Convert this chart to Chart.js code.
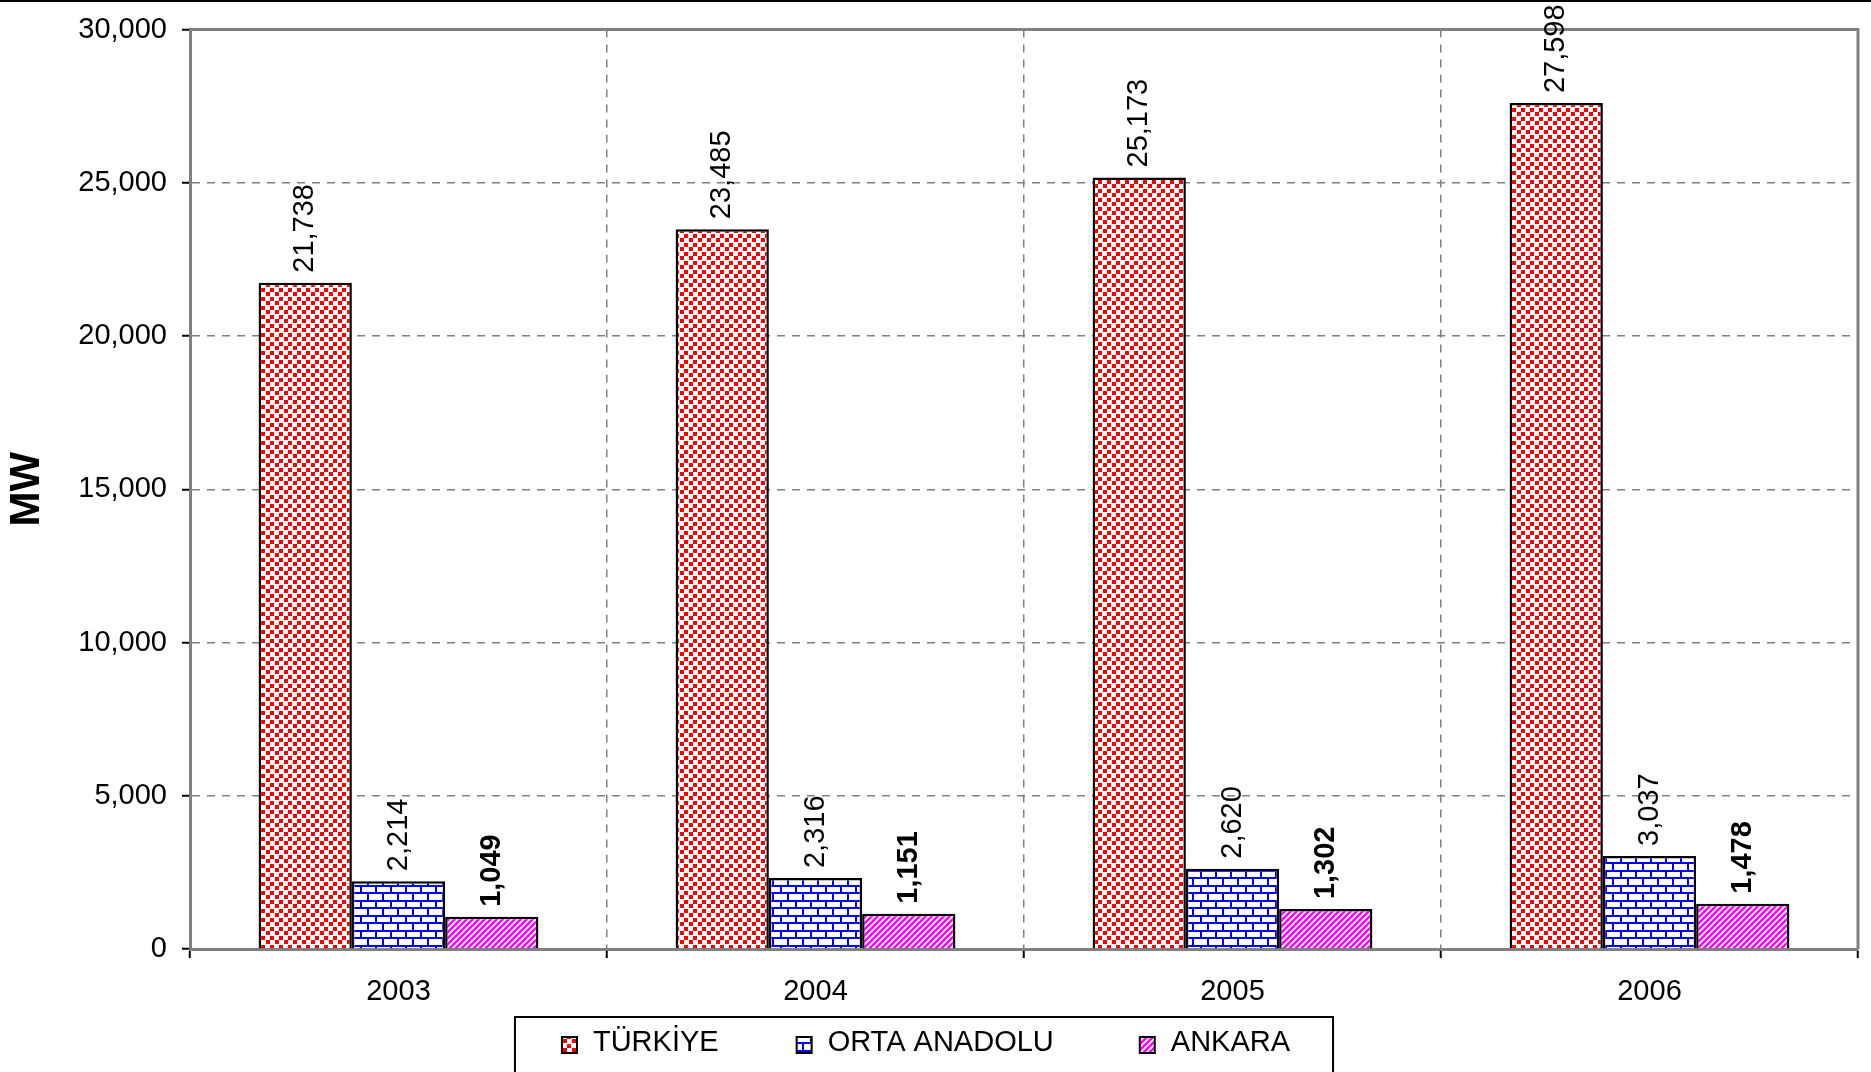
<!DOCTYPE html>
<html>
<head>
<meta charset="utf-8">
<script src="https://cdn.jsdelivr.net/npm/chart.js@4.4.0/dist/chart.umd.min.js"></script>
<style>
  body { margin: 0; background: #fff; }
  canvas { display: block; }
</style>
</head>
<body>
<canvas id="chart" width="1871" height="1072"></canvas>
<script>
const years = ["2003", "2004", "2005", "2006"];
const turkiye = [21738, 23485, 25173, 27598];
const ortaAnadolu = [2214, 2316, 2620, 3037];
const ankara = [1049, 1151, 1302, 1478];
const seriesNames = ["TÜRKİYE", "ORTA ANADOLU", "ANKARA"];
const yTicks = [0, 5000, 10000, 15000, 20000, 25000, 30000];

const FONT = "'Liberation Sans', Arial, sans-serif";
const ctx = document.getElementById("chart").getContext("2d");

function makePattern(size, draw) {
  const c = document.createElement("canvas");
  c.width = size;
  c.height = size;
  const g = c.getContext("2d");
  g.fillStyle = "#fff";
  g.fillRect(0, 0, size, size);
  draw(g, size);
  return ctx.createPattern(c, "repeat");
}

// kırmızı noktalar
const dots = makePattern(9, g => {
  g.fillStyle = "#ff0000";
  g.fillRect(0, 0, 4, 4);
  g.fillRect(5, 4, 4, 4);
});

// mavi tuğla
const bricks = makePattern(15, g => {
  g.fillStyle = "#0000ff";
  g.fillRect(0, 0, 15, 2);
  g.fillRect(0, 7, 15, 2);
  g.fillRect(0, 0, 2, 7);
  g.fillRect(7, 7, 2, 8);
});

// pembe çapraz çizgiler
const stripes = makePattern(6, g => {
  g.strokeStyle = "#ff00ff";
  g.lineWidth = 2.5;
  g.beginPath();
  g.moveTo(-1, 7); g.lineTo(7, -1);
  g.moveTo(-1, 1); g.lineTo(1, -1);
  g.moveTo(5, 7); g.lineTo(7, 5);
  g.stroke();
});

const fills = [dots, bricks, stripes];

// çizim alanı çerçevesi (üst ve sağ)
const frame = {
  id: "frame",
  beforeDatasetsDraw(chart) {
    const c = chart.ctx;
    const a = chart.chartArea;
    c.save();
    c.strokeStyle = "#808080";
    c.lineWidth = 3;
    c.beginPath();
    c.moveTo(a.left, a.top);
    c.lineTo(a.right, a.top);
    c.lineTo(a.right, a.bottom);
    c.stroke();
    c.fillStyle = "#000";
    c.fillRect(0, 0, chart.width, 2);
    c.restore();
  }
};

// çubuk üstü değerler (dikey yazı)
const barLabels = {
  id: "barLabels",
  afterDatasetsDraw(chart) {
    const c = chart.ctx;
    chart.data.datasets.forEach((ds, i) => {
      chart.getDatasetMeta(i).data.forEach((bar, j) => {
        c.save();
        c.translate(bar.x, bar.y - 10);
        c.rotate(-Math.PI / 2);
        c.font = (i === 2 ? "bold " : "") + "29px " + FONT;
        c.fillStyle = "#000";
        c.textAlign = "left";
        c.textBaseline = "middle";
        c.fillText(ds.data[j].toLocaleString("en-US"), 0, 0);
        c.restore();
      });
    });
  }
};

// lejant kutusu
const legendBox = {
  id: "legendBox",
  afterDraw(chart) {
    const c = chart.ctx;
    c.save();
    c.font = "29px " + FONT;
    const box = 15, gap = 16;
    const spacings = [0, 78, 86];
    const widths = chart.data.datasets.map(ds => c.measureText(ds.label).width);
    let total = 0;
    widths.forEach((w, i) => { total += box + gap + w + spacings[i]; });
    let x = 926 - total / 2;
    c.strokeStyle = "#000";
    c.lineWidth = 2;
    c.strokeRect(x - 47, 1017, total + 90, chart.height);

    chart.data.datasets.forEach((ds, i) => {
      x += spacings[i];
      c.fillStyle = ds.backgroundColor;
      c.fillRect(x, 1037, box, 16);
      c.lineWidth = 2;
      c.strokeStyle = "#000";
      c.strokeRect(x, 1037, box, 16);
      c.fillStyle = "#000";
      c.textAlign = "left";
      c.textBaseline = "middle";
      c.fillText(ds.label, x + box + gap, 1043);
      x += box + gap + widths[i];
    });
    c.restore();
  }
};

const gridOpts = {
  color: "#808080",
  lineWidth: 1.5,
  tickColor: "#000",
  tickWidth: 2,
  tickBorderDash: []
};

new Chart(ctx, {
  type: "bar",
  data: {
    labels: years,
    datasets: [
      { label: seriesNames[0], data: turkiye, backgroundColor: fills[0], borderColor: "#000", borderWidth: 2.5 },
      { label: seriesNames[1], data: ortaAnadolu, backgroundColor: fills[1], borderColor: "#000", borderWidth: 2.5 },
      { label: seriesNames[2], data: ankara, backgroundColor: fills[2], borderColor: "#000", borderWidth: 2.5 }
    ]
  },
  options: {
    responsive: false,
    animation: false,
    layout: { padding: { top: 22, right: 13, bottom: 55, left: 0 } },
    datasets: { bar: { categoryPercentage: 0.671, barPercentage: 1.0 } },
    plugins: {
      legend: { display: false },
      tooltip: { enabled: false }
    },
    scales: {
      x: {
        grid: { ...gridOpts, offset: true, tickLength: 9 },
        border: { color: "#808080", width: 3, dash: [8, 7] },
        ticks: { color: "#000", font: { size: 29, family: FONT }, padding: 17 },
        afterFit(s) { s.height = 68; }
      },
      y: {
        min: 0,
        max: 30000,
        afterBuildTicks(s) { s.ticks = yTicks.map(v => ({ value: v })); },
        grid: { ...gridOpts, tickLength: 8 },
        border: { color: "#808080", width: 3, dash: [8, 7] },
        ticks: {
          color: "#000",
          font: { size: 29, family: FONT, lineHeight: 1 },
          padding: 15,
          callback: v => v.toLocaleString("en-US")
        },
        title: {
          display: true,
          text: "MW",
          color: "#000",
          font: { size: 42, weight: "bold", family: FONT },
          padding: { top: 2 }
        },
        afterFit(s) { s.width = 190; }
      }
    }
  },
  plugins: [frame, barLabels, legendBox]
});
</script>
</body>
</html>
